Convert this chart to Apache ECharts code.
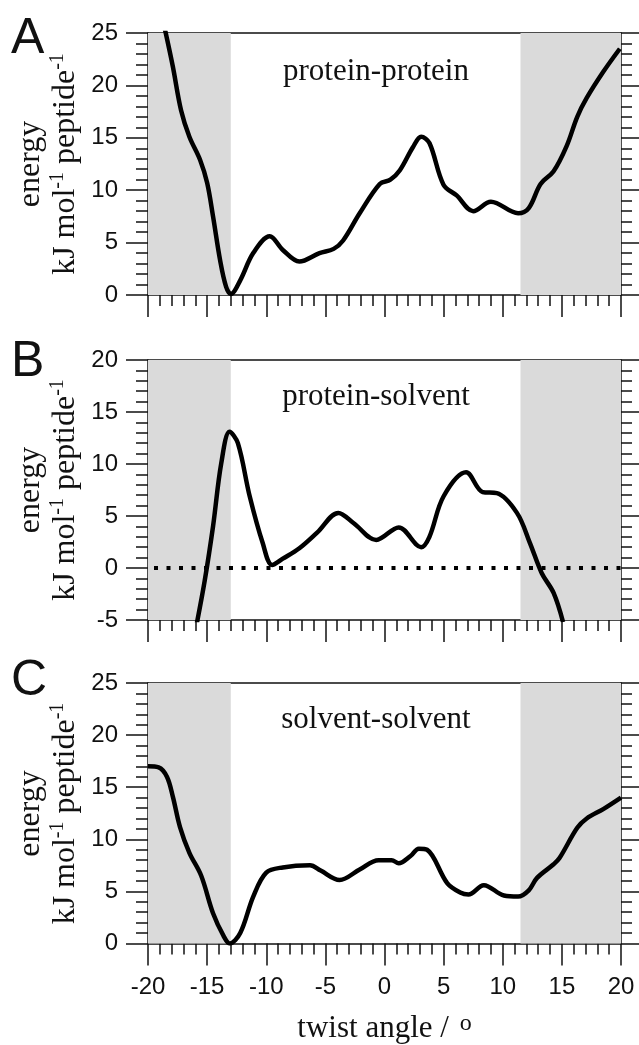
<!DOCTYPE html>
<html>
<head>
<meta charset="utf-8">
<script src="https://cdn.jsdelivr.net/npm/echarts@6/dist/echarts.min.js"></script>
<style>
html,body{margin:0;padding:0;background:#fff;}
#c{width:639px;height:1045px;}
</style>
</head>
<body>
<div id="c"></div>
<script>
// ---- data ----
const xTicks = [-20, -15, -10, -5, 0, 5, 10, 15, 20];
const shadeLeft = [-20, -13];
const shadeRight = [11.5, 20];

const ppX = [-19.2, -18.5, -17.9, -17.2, -16.5, -15.6, -15.0, -14.5, -13.9, -13.4, -13.0, -12.2, -11.1, -9.7, -8.6, -7.2, -5.5, -4.3, -3.5, -2.1, -0.4, 0.5, 1.3, 2.4, 3.1, 3.8, 5.0, 6.1, 7.5, 9.0, 11.3, 12.2, 13.2, 14.3, 15.4, 16.3, 17.1, 18.5, 19.9];
const ppY = [28.5, 25.0, 21.8, 17.6, 15.1, 12.9, 10.7, 7.5, 3.3, 0.8, 0.1, 1.4, 4.0, 5.6, 4.3, 3.2, 4.0, 4.4, 5.2, 7.8, 10.6, 11.0, 11.9, 14.1, 15.1, 14.5, 10.5, 9.5, 8.0, 8.9, 7.8, 8.3, 10.6, 11.8, 14.2, 17.0, 18.8, 21.3, 23.5];

const psX = [-15.9, -15.2, -14.5, -13.8, -13.1, -12.4, -11.4, -10.3, -9.5, -8.6, -7.2, -5.7, -3.9, -2.6, -0.7, 1.2, 3.1, 3.8, 5.0, 6.9, 8.3, 9.5, 11.2, 12.3, 13.3, 14.3, 15.1];
const psY = [-5.5, -1.2, 4.0, 10.1, 13.1, 12.0, 6.9, 2.4, 0.3, 0.9, 1.9, 3.4, 5.3, 4.3, 2.7, 3.9, 2.0, 3.0, 6.9, 9.2, 7.3, 7.2, 5.3, 2.4, -0.5, -2.4, -5.2];

const ssX = [-20, -19.1, -18.4, -17.9, -17.3, -16.5, -15.5, -14.5, -13.6, -13.1, -12.2, -11.1, -10.0, -8.6, -6.3, -5.4, -3.8, -2.1, -0.5, 0.6, 1.2, 2.2, 2.9, 3.6, 5.3, 6.4, 7.1, 8.4, 10.1, 11.3, 12.2, 12.9, 14.3, 14.8, 16.3, 17.1, 18.5, 20];
const ssY = [17.0, 16.9, 16.0, 14.1, 11.2, 8.7, 6.5, 2.9, 0.7, 0.0, 1.0, 4.5, 6.8, 7.3, 7.5, 7.0, 6.1, 7.1, 8.0, 8.0, 7.7, 8.4, 9.1, 9.0, 5.8, 4.9, 4.7, 5.6, 4.6, 4.5, 5.1, 6.3, 7.6, 8.2, 11.1, 12.0, 12.9, 14.0];

const zeroLineX = [-20, 20];
const zeroLineY = [0, 0];

const panelLetters = ['A', 'B', 'C'];
const panelTitles = ['protein-protein', 'protein-solvent', 'solvent-solvent'];
const yRanges = [[0, 25], [-5, 20], [0, 25]];
const xAxisTitle = 'twist angle / ';

// ---- layout ----
const SANS = "'Liberation Sans', Arial, sans-serif";
const SERIF = "'Liberation Serif', 'Times New Roman', serif";
const grids = [
  {left: 148, top: 33, width: 473, height: 262},
  {left: 148, top: 360, width: 473, height: 260},
  {left: 148, top: 683, width: 473, height: 261}
];

const zip = (xs, ys) => xs.map((x, i) => [x, ys[i]]);
const ink = '#111';

const xAxes = [], yAxes = [], series = [], graphics = [];
grids.forEach((g, i) => {
  const isLast = i === 2;
  xAxes.push({
    gridIndex: i, type: 'value', min: -20, max: 20, interval: 5, position: 'bottom',
    axisLine: {show: true, onZero: false, lineStyle: {color: ink, width: 1.5}},
    axisTick: {show: true, inside: false, length: 22, lineStyle: {color: ink, width: 1.5}},
    minorTick: {show: true, splitNumber: 5, length: 11, lineStyle: {color: ink, width: 1.5}},
    axisLabel: {show: isLast, margin: 32, fontSize: 24, fontFamily: SANS, color: ink},
    splitLine: {show: false},
    name: isLast ? '{a|' + xAxisTitle + '}{s|o}' : '',
    nameLocation: 'middle', nameGap: 68,
    nameTextStyle: {
      rich: {
        a: {fontSize: 31, fontFamily: SERIF, color: ink, lineHeight: 34},
        s: {fontSize: 24, fontFamily: SERIF, color: ink, lineHeight: 34, verticalAlign: 'top', padding: [0, 0, 0, 3]}
      }
    }
  });
  xAxes.push({
    gridIndex: i, type: 'value', min: -20, max: 20, interval: 5, position: 'top',
    axisLine: {show: true, onZero: false, lineStyle: {color: ink, width: 1.5}},
    axisTick: {show: false}, axisLabel: {show: false}, splitLine: {show: false}
  });
  const r = yRanges[i];
  yAxes.push({
    gridIndex: i, type: 'value', min: r[0], max: r[1], interval: 5, position: 'left',
    axisLine: {show: true, onZero: false, lineStyle: {color: ink, width: 1.5}},
    axisTick: {show: true, inside: false, length: 22, lineStyle: {color: ink, width: 1.5}},
    minorTick: {show: true, splitNumber: 5, length: 12, lineStyle: {color: ink, width: 1.5}},
    axisLabel: {show: true, margin: 30, fontSize: 24, fontFamily: SANS, color: ink},
    splitLine: {show: false}
  });
  yAxes.push({
    gridIndex: i, type: 'value', min: r[0], max: r[1], interval: 5, position: 'right',
    axisLine: {show: true, onZero: false, lineStyle: {color: ink, width: 1.5}},
    axisTick: {show: true, inside: false, length: 18, lineStyle: {color: ink, width: 1.5}},
    minorTick: {show: true, splitNumber: 5, length: 11, lineStyle: {color: ink, width: 1.5}},
    axisLabel: {show: false}, splitLine: {show: false}
  });
});

const curves = [zip(ppX, ppY), zip(psX, psY), zip(ssX, ssY)];
curves.forEach((d, i) => {
  series.push({
    type: 'line', xAxisIndex: i * 2, yAxisIndex: i * 2, data: d,
    smooth: 0.35, symbol: 'none', clip: true, z: 5,
    lineStyle: {color: '#000', width: 4.5},
    markArea: {
      silent: true,
      itemStyle: {color: '#dadada'},
      data: [
        [{xAxis: shadeLeft[0]}, {xAxis: shadeLeft[1]}],
        [{xAxis: shadeRight[0]}, {xAxis: shadeRight[1]}]
      ]
    }
  });
});
series.push({
  type: 'line', xAxisIndex: 2, yAxisIndex: 2, data: zip(zeroLineX, zeroLineY),
  symbol: 'none', z: 4,
  lineStyle: {color: '#000', width: 4, type: [4, 8.5], dashOffset: -6}
});

const yTitleRich = {
  a: {fontSize: 32, fontFamily: SERIF, fill: ink, color: ink, lineHeight: 35},
  s: {fontSize: 20, fontFamily: SERIF, fill: ink, color: ink, lineHeight: 35, verticalAlign: 'top'}
};
const letterY = [39, 362, 681];
const titleY = [72, 397, 720];
grids.forEach((g, i) => {
  graphics.push({
    type: 'text', left: 11, top: letterY[i] - 25,
    style: {text: panelLetters[i], font: '50px ' + SANS, fill: ink}
  });
  graphics.push({
    type: 'text', x: 376, y: titleY[i],
    style: {text: panelTitles[i], font: '31px ' + SERIF, fill: ink,
      textAlign: 'center', textVerticalAlign: 'middle', align: 'center', verticalAlign: 'middle'}
  });
  graphics.push({
    type: 'text', x: 48, y: g.top + g.height / 2, rotation: Math.PI / 2,
    style: {
      text: '{a|energy}\n{a|kJ mol}{s|-1}{a| peptide}{s|-1}',
      rich: yTitleRich, fill: ink,
      textAlign: 'center', textVerticalAlign: 'middle', align: 'center', verticalAlign: 'middle'
    }
  });
});

const chart = echarts.init(document.getElementById('c'), null, {renderer: 'canvas'});
chart.setOption({
  animation: false,
  backgroundColor: '#fff',
  grid: grids,
  xAxis: xAxes,
  yAxis: yAxes,
  series: series,
  graphic: graphics
});
</script>
</body>
</html>
